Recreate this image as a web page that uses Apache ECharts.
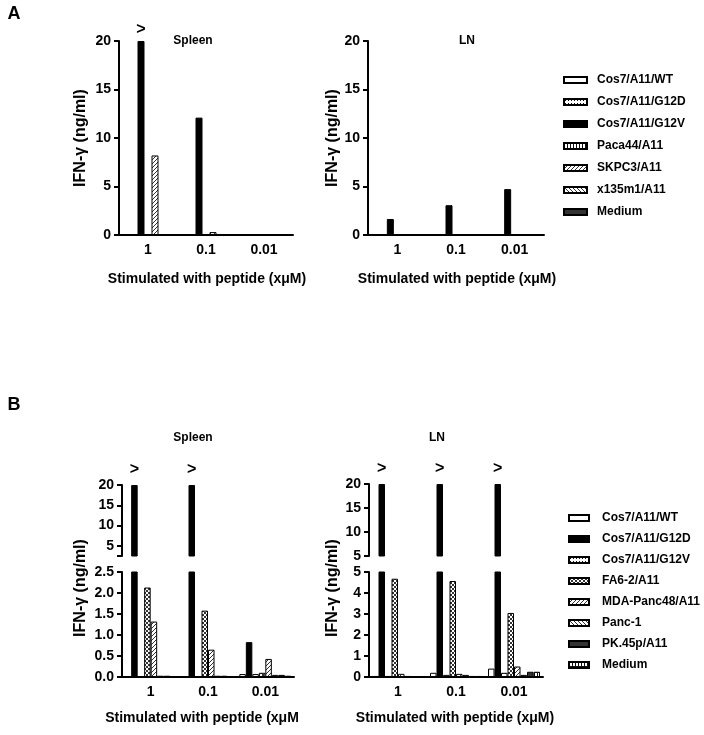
<!DOCTYPE html>
<html><head><meta charset="utf-8">
<script src="https://cdn.jsdelivr.net/npm/echarts@6/dist/echarts.min.js"></script>
<style>html,body{margin:0;padding:0;background:#fff}#c{width:704px;height:735px}</style>
</head><body><div id="c"></div>
<script>
// ---------- DATA ----------
const doseLabels = ['1', '0.1', '0.01'];

// Panel A
const namesA = ['Cos7/A11/WT', 'Cos7/A11/G12D', 'Cos7/A11/G12V', 'Paca44/A11', 'SKPC3/A11', 'x135m1/A11', 'Medium'];
const spleenA_WT = [0, 0, 0];
const spleenA_G12D = [0, 0, 0];
const spleenA_G12V = [20, 12.1, 0];
const spleenA_Paca44 = [0, 0, 0];
const spleenA_SKPC3 = [8.2, 0.3, 0];
const spleenA_x135 = [0, 0, 0];
const spleenA_Medium = [0, 0, 0];
const lnA_WT = [0, 0, 0];
const lnA_G12D = [0, 0, 0];
const lnA_G12V = [1.65, 3.07, 4.73];
const lnA_Paca44 = [0, 0, 0];
const lnA_SKPC3 = [0, 0.1, 0.1];
const lnA_x135 = [0, 0, 0];
const lnA_Medium = [0, 0, 0];
const spleenACappedDoses = ['1'];   // Cos7/A11/G12V above axis max
const lnACappedDoses = [];
const ticksA = [0, 5, 10, 15, 20];

// Panel B
const namesB = ['Cos7/A11/WT', 'Cos7/A11/G12D', 'Cos7/A11/G12V', 'FA6-2/A11', 'MDA-Panc48/A11', 'Panc-1', 'PK.45p/A11', 'Medium'];
const spleenB_WT = [0.02, 0.02, 0.07];
const spleenB_G12D = [20, 20, 0.83];
const spleenB_G12V = [0.02, 0.02, 0.07];
const spleenB_FA62 = [2.13, 1.58, 0.1];
const spleenB_MDA = [1.32, 0.65, 0.43];
const spleenB_Panc1 = [0.03, 0.03, 0.05];
const spleenB_PK45p = [0.03, 0.03, 0.05];
const spleenB_Medium = [0.02, 0.02, 0.03];
const lnB_WT = [0.05, 0.2, 0.4];
const lnB_G12D = [20, 20, 20];
const lnB_G12V = [0.05, 0.1, 0.2];
const lnB_FA62 = [4.68, 4.57, 3.05];
const lnB_MDA = [0.15, 0.15, 0.5];
const lnB_Panc1 = [0.05, 0.1, 0.1];
const lnB_PK45p = [0.03, 0.05, 0.25];
const lnB_Medium = [0.03, 0.05, 0.25];
const spleenBCappedDoses = ['1', '0.1'];      // Cos7/A11/G12D above axis max
const lnBCappedDoses = ['1', '0.1', '0.01'];
const spleenBUpperRange = [2.5, 20];
const spleenBUpperTicks = [5, 10, 15, 20];
const spleenBLowerTicks = [0, 0.5, 1.0, 1.5, 2.0, 2.5];
const lnBUpperTicks = [5, 10, 15, 20];
const lnBLowerTicks = [0, 1, 2, 3, 4, 5];

const spleenA = [spleenA_WT, spleenA_G12D, spleenA_G12V, spleenA_Paca44, spleenA_SKPC3, spleenA_x135, spleenA_Medium];
const lnA = [lnA_WT, lnA_G12D, lnA_G12V, lnA_Paca44, lnA_SKPC3, lnA_x135, lnA_Medium];
const spleenB = [spleenB_WT, spleenB_G12D, spleenB_G12V, spleenB_FA62, spleenB_MDA, spleenB_Panc1, spleenB_PK45p, spleenB_Medium];
const lnB = [lnB_WT, lnB_G12D, lnB_G12V, lnB_FA62, lnB_MDA, lnB_Panc1, lnB_PK45p, lnB_Medium];

// ---------- STYLES ----------
const patternsA = ['white', 'dots', 'black', 'vlines', 'fdiag', 'bdiag', 'dark'];
const patternsB = ['white', 'black', 'dots', 'checker', 'fdiag', 'bdiag', 'dark', 'grid'];
const FONT = '"Liberation Sans", Arial, sans-serif';

function fill(kind) {
  if (kind === 'white') return '#ffffff';
  if (kind === 'black') return '#000000';
  if (kind === 'dark') return '#333333';
  const c = document.createElement('canvas');
  let w = 4, h = 4;
  if (kind === 'dots') { w = 3; h = 3; }
  if (kind === 'vlines') { w = 3; h = 2; }
  if (kind === 'checker') { w = 4; h = 4; }
  if (kind === 'grid') { w = 3; h = 4; }
  c.width = w; c.height = h;
  const g = c.getContext('2d');
  g.fillStyle = '#fff'; g.fillRect(0, 0, w, h);
  g.fillStyle = '#111';
  const px = (x, y) => g.fillRect(x, y, 1, 1);
  if (kind === 'dots') { px(1, 1); }
  if (kind === 'vlines') { g.fillRect(0, 0, 1, h); }
  if (kind === 'checker') { g.fillStyle = '#333'; g.fillRect(0, 0, 2, 2); g.fillRect(2, 2, 2, 2); }
  if (kind === 'grid') { g.fillRect(0, 0, 1, h); g.fillRect(0, 0, w, 1); }
  if (kind === 'fdiag') { g.fillStyle = '#333'; px(3, 0); px(2, 1); px(1, 2); px(0, 3); }
  if (kind === 'bdiag') { g.fillStyle = '#333'; px(0, 0); px(1, 1); px(2, 2); px(3, 3); }
  return { image: c, repeat: 'repeat' };
}

function bars(prefix, names, values, xi, yi, pats, bw, cappedIdx, cappedDoses, lowerCut, labelDist) {
  return names.map((n, i) => ({
    type: 'bar', name: prefix + n, xAxisIndex: xi, yAxisIndex: yi,
    barWidth: bw, barGap: '0%', clip: true, animation: false,
    emphasis: { disabled: true },
    itemStyle: { color: fill(pats[i]), borderColor: '#000', borderWidth: 1 },
    data: values[i].map((v, j) => {
      const val = (lowerCut != null && v < lowerCut) ? '-' : v;
      if (i === cappedIdx && cappedDoses && cappedDoses.includes(doseLabels[j])) {
        return { value: val, label: { show: true, position: 'top', distance: labelDist, formatter: '>',
          color: '#000', fontFamily: FONT, fontWeight: 'bold', fontSize: 16 } };
      }
      return val;
    })
  }));
}

function xAx(gi, show) {
  return {
    type: 'category', gridIndex: gi, data: doseLabels, show: show,
    axisLine: { onZero: false, lineStyle: { color: '#000', width: 2 } },
    axisTick: { alignWithLabel: true, length: 5, lineStyle: { color: '#000', width: 2 } },
    axisLabel: { color: '#000', fontFamily: FONT, fontWeight: 'bold', fontSize: 14, margin: 8 }
  };
}
function yAx(gi, range, labelTicks, tickTicks, fmt) {
  return {
    type: 'value', gridIndex: gi, min: range[0], max: range[1],
    axisLine: { show: true, lineStyle: { color: '#000', width: 2 } },
    axisTick: { show: true, length: 5, lineStyle: { color: '#000', width: 2 }, customValues: tickTicks },
    axisLabel: { color: '#000', fontFamily: FONT, fontWeight: 'bold', fontSize: 14, margin: 8,
      customValues: labelTicks, formatter: fmt || (v => String(v)) },
    splitLine: { show: false }
  };
}

function txt(x, y, text, size, rot, weight) {
  return { type: 'text', x: x, y: y, rotation: rot || 0,
    style: { text: text, font: (weight || 'bold') + ' ' + size + 'px ' + FONT, fill: '#000',
      align: 'center', verticalAlign: 'middle' } };
}

const chart = echarts.init(document.getElementById('c'));
const legendText = { color: '#000', fontFamily: FONT, fontWeight: 'bold', fontSize: 12, lineHeight: 14, padding: [0, 0, 0, 5] };

const option = {
  backgroundColor: '#fff',
  animation: false,
  grid: [
    { left: 119, top: 41, width: 174, height: 194, outerBoundsMode: 'none' },   // 0 spleen A
    { left: 368, top: 41, width: 176, height: 194, outerBoundsMode: 'none' },   // 1 LN A
    { left: 122, top: 485, width: 172, height: 71, outerBoundsMode: 'none' },   // 2 spleen B upper
    { left: 122, top: 572, width: 172, height: 105, outerBoundsMode: 'none' },  // 3 spleen B lower
    { left: 369, top: 484, width: 174, height: 72, outerBoundsMode: 'none' },   // 4 LN B upper
    { left: 369, top: 572, width: 174, height: 105, outerBoundsMode: 'none' }   // 5 LN B lower
  ],
  xAxis: [xAx(0, true), xAx(1, true), xAx(2, false), xAx(3, true), xAx(4, false), xAx(5, true)],
  yAxis: [
    yAx(0, [ticksA[0], ticksA[ticksA.length - 1]], ticksA, ticksA),
    yAx(1, [ticksA[0], ticksA[ticksA.length - 1]], ticksA, ticksA),
    yAx(2, spleenBUpperRange, spleenBUpperTicks, [spleenBUpperRange[0]].concat(spleenBUpperTicks)),
    yAx(3, [spleenBLowerTicks[0], spleenBLowerTicks[spleenBLowerTicks.length - 1]], spleenBLowerTicks, spleenBLowerTicks, v => v.toFixed(1)),
    yAx(4, [lnBUpperTicks[0], lnBUpperTicks[lnBUpperTicks.length - 1]], lnBUpperTicks, lnBUpperTicks),
    yAx(5, [lnBLowerTicks[0], lnBLowerTicks[lnBLowerTicks.length - 1]], lnBLowerTicks, lnBLowerTicks)
  ],
  legend: [
    { orient: 'vertical', left: 558, top: 68, itemWidth: 23, itemHeight: 6, itemGap: 8, icon: 'rect',
      selectedMode: false, data: namesA.map(n => 'A:' + n), formatter: n => n.slice(2), textStyle: legendText },
    { orient: 'vertical', left: 563, top: 506, itemWidth: 20, itemHeight: 6, itemGap: 7, icon: 'rect',
      selectedMode: false, data: namesB.map(n => 'B:' + n), formatter: n => n.slice(2),
      textStyle: Object.assign({}, legendText, { padding: [0, 0, 0, 8] }) }
  ],
  graphic: [
    txt(14, 14, 'A', 18), txt(14, 405, 'B', 18),
    txt(193, 41, 'Spleen', 12), txt(467, 41, 'LN', 12),
    txt(193, 438, 'Spleen', 12), txt(437, 438, 'LN', 12),
    txt(81, 138, 'IFN-γ (ng/ml)', 16, Math.PI / 2), txt(333, 138, 'IFN-γ (ng/ml)', 16, Math.PI / 2),
    txt(81, 588, 'IFN-γ (ng/ml)', 16, Math.PI / 2), txt(333, 588, 'IFN-γ (ng/ml)', 16, Math.PI / 2),
    txt(207, 279, 'Stimulated with peptide (xμM)', 14), txt(457, 279, 'Stimulated with peptide (xμM)', 14),
    txt(202, 718, 'Stimulated with peptide (xμM', 14), txt(455, 718, 'Stimulated with peptide (xμM)', 14)
  ],
  series: [].concat(
    bars('A:', namesA, spleenA, 0, 0, patternsA, 7, 2, spleenACappedDoses, null, 3),
    bars('A:', namesA, lnA, 1, 1, patternsA, 7, 2, lnACappedDoses, null, 3),
    bars('B:', namesB, spleenB, 2, 2, patternsB, 6.5, 1, spleenBCappedDoses, spleenBUpperRange[0], 7),
    bars('B:', namesB, spleenB, 3, 3, patternsB, 6.5, -1, null, null, 8),
    bars('B:', namesB, lnB, 4, 4, patternsB, 6.5, 1, lnBCappedDoses, lnBUpperTicks[0], 7),
    bars('B:', namesB, lnB, 5, 5, patternsB, 6.5, -1, null, null, 8)
  )
};
chart.setOption(option);
</script>
</body></html>
